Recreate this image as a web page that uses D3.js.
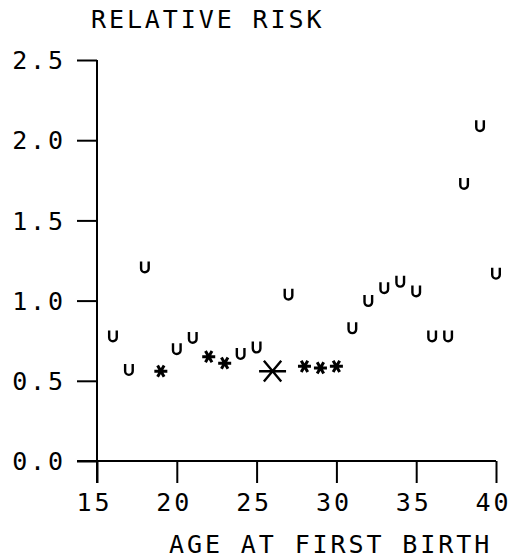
<!DOCTYPE html>
<html>
<head>
<meta charset="utf-8">
<script src="https://cdn.jsdelivr.net/npm/d3@7"></script>
<style>
  body { margin: 0; background: #fff; }
  text { font-family: "DejaVu Sans Mono", monospace; font-size: 25px; letter-spacing: 2.9px; fill: #000; }
</style>
</head>
<body>
<script>
// age at first birth vs relative risk
var ages = [16, 17, 18, 19, 20, 21, 22, 23, 24, 25, 26, 27, 28, 29, 30,
            31, 32, 33, 34, 35, 36, 37, 38, 39, 40];
var risks = [0.78, 0.57, 1.21, 0.56, 0.70, 0.77, 0.65, 0.61, 0.67, 0.71, 0.56, 1.04, 0.59, 0.58, 0.59,
             0.83, 1.00, 1.08, 1.12, 1.06, 0.78, 0.78, 1.73, 2.09, 1.17];
// u = unstable estimate, s = asterisk, S = reference group
var marks = ["u", "u", "u", "s", "u", "u", "s", "s", "u", "u", "S", "u", "s", "s", "s",
             "u", "u", "u", "u", "u", "u", "u", "u", "u", "u"];
var xTicks = [15, 20, 25, 30, 35, 40];
var yTicks = [0, 0.5, 1.0, 1.5, 2.0, 2.5];
var yTitle = "RELATIVE RISK";
var xTitle = "AGE AT FIRST BIRTH";

var w = 510, h = 559;

var svg = d3.select("body")
    .append("svg")
    .attr("width", w)
    .attr("height", h);

var xScale = d3.scaleLinear().domain([15, 40]).range([97, 496]);
var yScale = d3.scaleLinear().domain([0, 2.5]).range([461, 60]);

// y axis
var yAxis = d3.axisLeft(yScale)
    .tickValues(yTicks)
    .tickFormat(d3.format(".1f"))
    .tickSizeInner(20)
    .tickSizeOuter(0);

var gy = svg.append("g")
    .attr("transform", "translate(" + xScale(15) + ",0)")
    .call(yAxis);

// x axis (ticks point down)
var xAxis = d3.axisBottom(xScale)
    .tickValues(xTicks)
    .tickSizeInner(22)
    .tickSizeOuter(0);

var gx = svg.append("g")
    .attr("transform", "translate(0," + yScale(0) + ")")
    .call(xAxis);

svg.selectAll(".domain").remove();
svg.selectAll(".tick line").attr("stroke", "#000").attr("stroke-width", 2);
svg.selectAll(".tick text").attr("font-size", null).attr("font-family", null).attr("fill", null);
gy.selectAll(".tick text").attr("dy", "0.35em").attr("x", -31);
gx.selectAll(".tick text").attr("dy", "0").attr("y", 50).attr("x", -3);

// axis lines, both run a little past the corner
svg.append("line")
    .attr("x1", xScale(15)).attr("x2", xScale(15))
    .attr("y1", yScale(2.5)).attr("y2", yScale(0) + 22)
    .attr("stroke", "#000").attr("stroke-width", 2);
svg.append("line")
    .attr("x1", xScale(15) - 20).attr("x2", xScale(40))
    .attr("y1", yScale(0)).attr("y2", yScale(0))
    .attr("stroke", "#000").attr("stroke-width", 2);

// titles
svg.append("text").attr("x", 91).attr("y", 28).text(yTitle);
svg.append("text").attr("x", 169).attr("y", 553).text(xTitle);

// markers
var uPath = "M-3.8,-5.5V1.5A3.8,3.8 0 0 0 3.8,1.5V-5.5";
function star(r, a) {
    var dx = r * Math.cos(a), dy = r * Math.sin(a);
    return "M" + (-r) + ",0H" + r +
        "M" + (-dx) + "," + (-dy) + "L" + dx + "," + dy +
        "M" + (-dx) + "," + dy + "L" + dx + "," + (-dy);
}

var pts = ages.map(function (d, i) {
    return { age: d, risk: risks[i], mark: marks[i] };
});

svg.selectAll("path.pt")
    .data(pts)
    .enter()
    .append("path")
    .attr("class", "pt")
    .attr("transform", function (d) {
        return "translate(" + xScale(d.age) + "," + yScale(d.risk) + ")";
    })
    .attr("d", function (d) {
        if (d.mark == "u") return uPath;
        if (d.mark == "S") return star(13.5, 50 * Math.PI / 180);
        return star(6.5, 60 * Math.PI / 180);
    })
    .attr("fill", "none")
    .attr("stroke", "#000")
    .attr("stroke-width", function (d) { return d.mark == "s" ? 3 : 2.4; });
</script>
</body>
</html>
